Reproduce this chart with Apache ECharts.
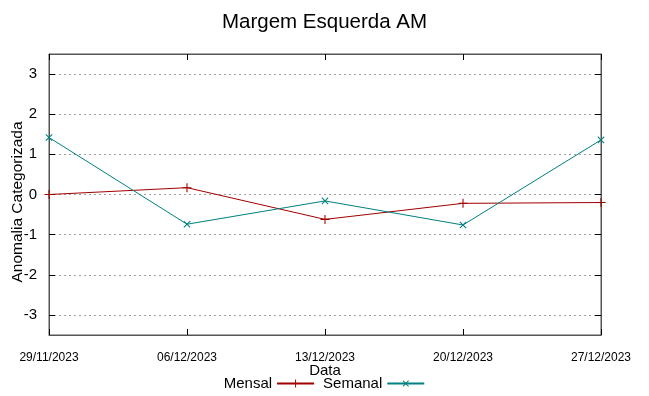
<!DOCTYPE html>
<html><head><meta charset="utf-8">
<script src="https://cdn.jsdelivr.net/npm/echarts@6/dist/echarts.min.js"></script>
<style>html,body{margin:0;padding:0;background:#fff}#c{width:649px;height:396px}</style>
</head><body><div id="c"></div>
<script>
const categories = ['29/11/2023','06/12/2023','13/12/2023','20/12/2023','27/12/2023'];
const mensal = [0.0, 0.17, -0.62, -0.22, -0.20];
const semanal = [1.42, -0.74, -0.16, -0.76, 1.36];
const yTicks = [-3,-2,-1,0,1,2,3];

const plusPath = 'path://M4.4,0H5.6V4.4H10V5.6H5.6V10H4.4V5.6H0V4.4H4.4Z';
const font = 'Liberation Sans, Arial, sans-serif';
const frame = '#555';
const tickStyle = {show:true, inside:true, length:6, lineStyle:{color:'#000'}};
const chart = echarts.init(document.getElementById('c'), null, {renderer:'canvas'});
chart.setOption({
  animation:false,
  backgroundColor:'#fff',
  title:{text:'Margem Esquerda AM', left:'center', top:7,
    textStyle:{fontFamily:font, fontWeight:'normal', fontSize:20.5, color:'#000'}},
  legend:{bottom:0, left:'center', align:'right', itemWidth:37, itemHeight:10, itemGap:8,
    textStyle:{fontFamily:font, fontSize:15, color:'#000'},
    data:['Mensal','Semanal']},
  grid:{left:49, right:48, top:54, bottom:61, show:true, borderColor:frame, borderWidth:1,
    containLabel:false, outerBoundsMode:'none'},
  graphic:[{type:'text', x:18, y:202, rotation:Math.PI/2,
    style:{text:'Anomalia Categorizada', fontFamily:font, fontSize:15.5, fill:'#000',
      align:'center', verticalAlign:'middle'}}],
  xAxis:[{type:'category', data:categories, boundaryGap:false,
    name:'Data', nameLocation:'middle', nameGap:28, nameMoveOverlap:false,
    nameTextStyle:{fontFamily:font, fontSize:15, color:'#000'},
    axisLine:{show:true, onZero:false, lineStyle:{color:frame}},
    axisTick:tickStyle,
    axisLabel:{fontFamily:font, fontSize:12, color:'#000', margin:17, showMinLabel:true, showMaxLabel:true, interval:0},
    splitLine:{show:false}},
   {type:'category', data:categories, boundaryGap:false, position:'top',
    axisLine:{show:true, onZero:false, lineStyle:{color:frame}},
    axisTick:tickStyle, axisLabel:{show:false}, splitLine:{show:false}}],
  yAxis:[{type:'value', min:-3.5, max:3.5, interval:1,
    axisLine:{show:true, lineStyle:{color:frame}},
    axisTick:Object.assign({customValues: yTicks}, tickStyle),
    axisLabel:{fontFamily:font, fontSize:15, color:'#000', margin:12,
      customValues: yTicks},
    splitLine:{show:true, lineStyle:{color:'#a0a0a0', type:[2,3], width:1}}},
   {type:'value', min:-3.5, max:3.5, interval:1, position:'right',
    axisLine:{show:true, lineStyle:{color:frame}},
    axisTick:Object.assign({customValues: yTicks}, tickStyle),
    axisLabel:{show:false}, splitLine:{show:false}}],
  series:[
    {name:'Mensal', type:'line', data:mensal, symbol:plusPath, symbolSize:9,
      showAllSymbol:true,
      lineStyle:{color:'#a00000', width:1}, itemStyle:{color:'#a00000'}},
    {name:'Semanal', type:'line', data:semanal, symbol:plusPath, symbolSize:9, symbolRotate:45,
      showAllSymbol:true,
      lineStyle:{color:'#008080', width:1}, itemStyle:{color:'#008080'}}
  ]
});
</script></body></html>
